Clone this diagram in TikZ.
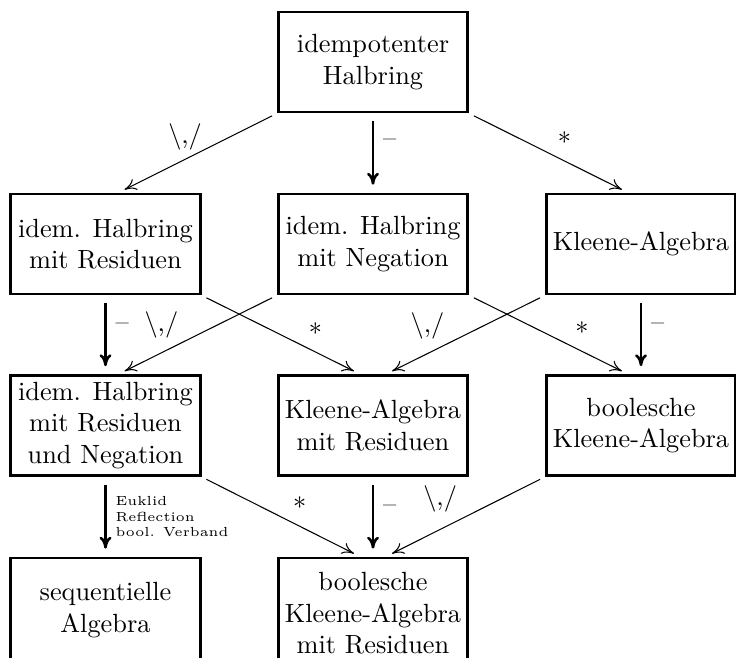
\documentclass[tikz,border=0pt]{standalone}
\usetikzlibrary{arrows.meta}
\newcommand{\joinop}{{\textbackslash},/}
\begin{document}
\begin{tikzpicture}[x=0.38pt,y=-0.38pt,
  box/.style={draw,line width=1.1pt,minimum width=72pt,minimum height=38pt,align=center,inner sep=2pt},
  diag/.style={-{To[length=4.5pt,width=4.5pt]},shorten <=2pt,shorten >=2.5pt},
  vert/.style={-{To[length=4.5pt,width=4.5pt]},line width=1pt,shorten <=3pt,shorten >=3pt}]
 \useasboundingbox (0,0) rectangle (736,658);
 % Knoten
 \node[box] (halbring) at (373,62) {idempotenter\\Halbring};
 \node[box] (residuen) at (105.5,244) {idem. Halbring\\mit Residuen};
 \node[box] (negation) at (373,244) {idem. Halbring\\mit Negation};
 \node[box] (kleene) at (641,244) {Kleene-Algebra};
 \node[box] (resneg) at (105.5,425.5) {idem. Halbring\\mit Residuen\\und Negation};
 \node[box] (kleeneres) at (373,425.5) {Kleene-Algebra\\mit Residuen};
 \node[box] (boolkleene) at (641,425.5) {boolesche\\Kleene-Algebra};
 \node[box,anchor=north,minimum height=39.5pt] (seqalg) at (105.5,556.5) {sequentielle\\Algebra};
 \node[box,anchor=north,minimum height=42.2pt] (boolkleeneres) at (373,556.5) {boolesche\\Kleene-Algebra\\mit Residuen};
 % Pfeile
 \draw[diag] (halbring.south west) -- ([xshift=5pt]residuen.north) node[pos=0.58,above] {\joinop};
 \draw[vert] (halbring) -- (negation) node[pos=0.37,right] {--};
 \draw[diag] (halbring.south east) -- ([xshift=-5pt]kleene.north) node[pos=0.6,above] {*};
 \draw[vert] (residuen) -- (resneg) node[pos=0.4,right] {--};
 \draw[diag] (negation.south west) -- ([xshift=5pt]resneg.north) node[pos=0.73,above=2pt] {\joinop};
 \draw[diag] (residuen.south east) -- ([xshift=-5pt]kleeneres.north) node[pos=0.72,above] {*};
 \draw[diag] (kleene.south west) -- ([xshift=5pt]kleeneres.north) node[pos=0.74,above=2pt] {\joinop};
 \draw[diag] (negation.south east) -- ([xshift=-5pt]boolkleene.north) node[pos=0.71,above] {*};
 \draw[vert] (kleene) -- (boolkleene) node[pos=0.4,right] {--};
 \draw[vert] (resneg) -- (seqalg.north) node[midway,right,align=left,font=\tiny] {Euklid\\Reflection\\bool. Verband};
 \draw[diag] (resneg.south east) -- ([xshift=-5pt]boolkleeneres.north) node[pos=0.62,above] {*};
 \draw[vert] (kleeneres) -- (boolkleeneres.north) node[pos=0.4,right] {--};
 \draw[diag] (boolkleene.south west) -- ([xshift=5pt]boolkleeneres.north) node[pos=0.66,above=3pt] {\joinop};
\end{tikzpicture}
\end{document}
